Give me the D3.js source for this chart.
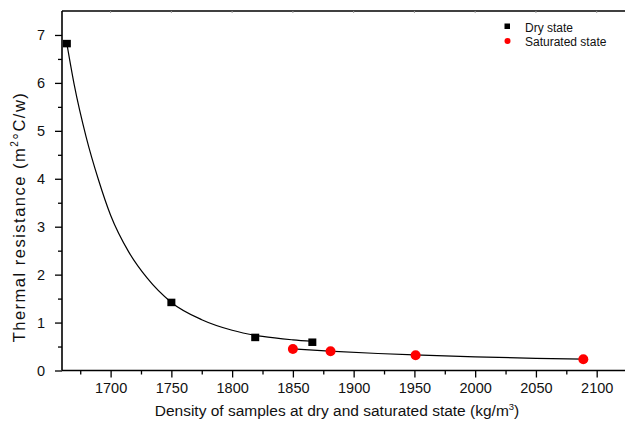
<!DOCTYPE html>
<html>
<head>
<meta charset="utf-8">
<script src="https://cdn.jsdelivr.net/npm/d3@7"></script>
<style>
  body { margin: 0; background: #fff; }
  svg { display: block; font-family: Arial, "Liberation Sans", sans-serif; }
</style>
</head>
<body>
<div id="chart"></div>
<script>
// measured points
const dryDensity = [1664, 1750, 1819, 1866];
const dryResistance = [6.82, 1.42, 0.69, 0.59];
const satDensity = [1850, 1881, 1951, 2089];
const satResistance = [0.45, 0.40, 0.32, 0.235];

// fitted curves
const dryFitX = [1664, 1670, 1680, 1690, 1700, 1715, 1730, 1750, 1775, 1800, 1825, 1850, 1866];
const dryFitY = [6.82, 5.97, 4.86, 3.98, 3.24, 2.47, 1.93, 1.42, 1.06, 0.84, 0.71, 0.64, 0.61];
const satFitX = [1850, 1880, 1920, 1950, 2000, 2050, 2089];
const satFitY = [0.45, 0.405, 0.355, 0.325, 0.285, 0.255, 0.237];

const xTicks = [1700, 1750, 1800, 1850, 1900, 1950, 2000, 2050, 2100];
const yTicks = [0, 1, 2, 3, 4, 5, 6, 7];
const legendLabels = ['Dry state', 'Saturated state'];

const width = 625, height = 424;
const plotLeft = 62, plotTop = 11, plotBottom = 370.5;

const svg = d3.select('#chart').append('svg')
  .attr('width', width)
  .attr('height', height);

const x = d3.scaleLinear([1660, 2130], [plotLeft, plotLeft + 470 * 1.2152]);
const y = d3.scaleLinear([0, 7.5], [plotBottom, plotTop]);

const fontSize = '14.5px';

// bottom axis with minor ticks
const minorX = d3.range(1675, 2126, 50);
svg.append('g')
  .attr('transform', `translate(0,${plotBottom})`)
  .call(d3.axisBottom(x).tickValues(minorX).tickSize(4).tickFormat(''))
  .call(g => g.select('.domain').remove())
  .call(g => g.selectAll('line').attr('stroke-width', 1.3));

const xAxis = svg.append('g')
  .attr('transform', `translate(0,${plotBottom})`)
  .call(d3.axisBottom(x).tickValues(xTicks).tickSize(7).tickSizeOuter(0).tickFormat(d3.format('d')));
xAxis.select('.domain').attr('stroke-width', 1.6).attr('d', `M${plotLeft},0H${width}`);
xAxis.selectAll('line').attr('stroke-width', 1.3);
xAxis.selectAll('text')
  .attr('y', 12.5)
  .style('font-size', fontSize)
  .style('font-family', 'Arial, "Liberation Sans", sans-serif')
  .attr('fill', '#111');

// left axis with minor ticks
const minorY = d3.range(0.5, 7.5, 1);
svg.append('g')
  .attr('transform', `translate(${plotLeft},0)`)
  .call(d3.axisLeft(y).tickValues(minorY).tickSize(4).tickFormat(''))
  .call(g => g.select('.domain').remove())
  .call(g => g.selectAll('line').attr('stroke-width', 1.3));

const yAxis = svg.append('g')
  .attr('transform', `translate(${plotLeft},0)`)
  .call(d3.axisLeft(y).tickValues(yTicks).tickSize(7).tickSizeOuter(0).tickFormat(d3.format('d')));
yAxis.select('.domain').attr('stroke-width', 1.6).attr('d', `M0,${plotBottom}V${plotTop}`);
yAxis.selectAll('line').attr('stroke-width', 1.3);
yAxis.selectAll('text')
  .attr('x', -17)
  .style('font-size', fontSize)
  .style('font-family', 'Arial, "Liberation Sans", sans-serif')
  .attr('fill', '#111');

// top frame line with faint ticks
svg.append('line')
  .attr('x1', plotLeft).attr('x2', width)
  .attr('y1', plotTop).attr('y2', plotTop)
  .attr('stroke', '#000')
  .attr('stroke-width', 1.3);

svg.append('g')
  .selectAll('line')
  .data(xTicks)
  .join('line')
    .attr('x1', d => x(d)).attr('x2', d => x(d))
    .attr('y1', plotTop).attr('y2', plotTop + 2)
    .attr('stroke', '#999')
    .attr('stroke-width', 1);

// fit curves
const line = d3.line()
  .x(d => x(d[0]))
  .y(d => y(d[1]))
  .curve(d3.curveMonotoneX);

svg.append('path')
  .datum(d3.zip(dryFitX, dryFitY))
  .attr('d', line)
  .attr('fill', 'none')
  .attr('stroke', '#000')
  .attr('stroke-width', 1.2);

svg.append('path')
  .datum(d3.zip(satFitX, satFitY))
  .attr('d', line)
  .attr('fill', 'none')
  .attr('stroke', '#000')
  .attr('stroke-width', 1.2);

// markers
svg.append('g')
  .selectAll('rect')
  .data(d3.zip(dryDensity, dryResistance))
  .join('rect')
    .attr('x', d => x(d[0]) - 4)
    .attr('y', d => y(d[1]) - 3.75)
    .attr('width', 8)
    .attr('height', 7.5)
    .attr('fill', '#000');

svg.append('g')
  .selectAll('circle')
  .data(d3.zip(satDensity, satResistance))
  .join('circle')
    .attr('cx', d => x(d[0]))
    .attr('cy', d => y(d[1]))
    .attr('r', 5)
    .attr('fill', '#ff0000');

// legend
const legend = svg.append('g')
  .style('font-size', '12px');

legend.append('rect')
  .attr('x', 504.5).attr('y', 23.5)
  .attr('width', 5.5).attr('height', 5.5)
  .attr('fill', '#000');
legend.append('circle')
  .attr('cx', 507.5).attr('cy', 41)
  .attr('r', 3)
  .attr('fill', '#ff0000');

legend.selectAll('text')
  .data(legendLabels)
  .join('text')
    .attr('x', 525)
    .attr('y', (d, i) => 32 + i * 13.5)
    .attr('fill', '#111')
    .text(d => d);

// axis titles
const yTitle = svg.append('text')
  .attr('transform', 'translate(25,217) rotate(-90)')
  .attr('text-anchor', 'middle')
  .style('font-size', '16.5px')
  .style('letter-spacing', '1.5px')
  .attr('fill', '#111');
yTitle.append('tspan').text('Thermal resistance (m');
yTitle.append('tspan').attr('dy', -7).style('font-size', '10px').text('2');
yTitle.append('tspan').attr('dy', 7).text('°C/w)');

const xTitle = svg.append('text')
  .attr('x', 337)
  .attr('y', 416)
  .attr('text-anchor', 'middle')
  .style('font-size', '15.5px')
  .attr('fill', '#111');
xTitle.append('tspan').text('Density of samples at dry and saturated state (kg/m');
xTitle.append('tspan').attr('dy', -6.5).style('font-size', '9.5px').text('3');
xTitle.append('tspan').attr('dy', 6.5).text(')');
</script>
</body>
</html>
